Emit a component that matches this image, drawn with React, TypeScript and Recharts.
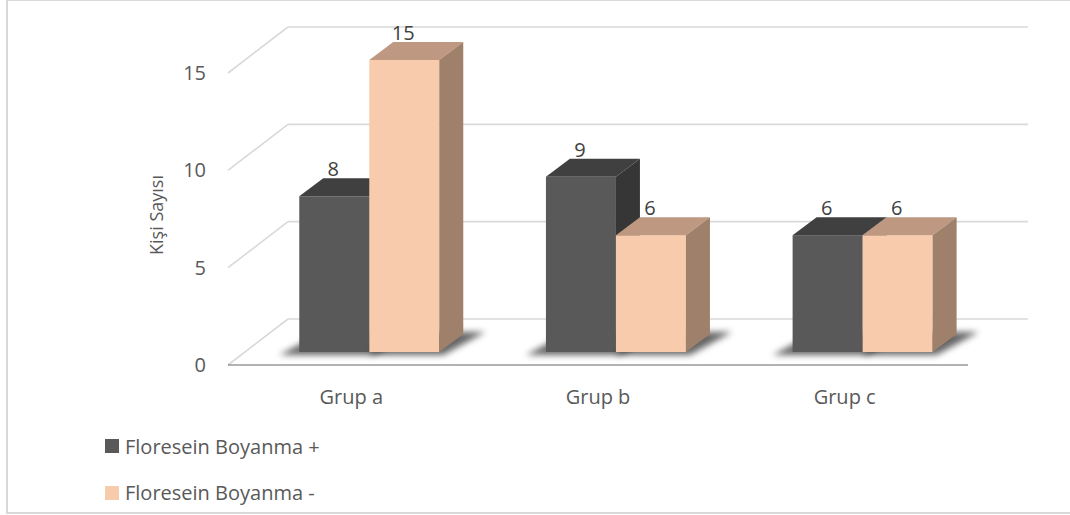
import React from 'react';
import {
  BarChart,
  Bar,
  XAxis,
  YAxis,
  CartesianGrid,
  LabelList,
} from 'recharts';

const CATEGORIES = ['Grup a', 'Grup b', 'Grup c'];
const SERIES_NAMES = ['Floresein Boyanma +', 'Floresein Boyanma -'];
const POSITIVE = [8, 9, 6];
const NEGATIVE = [15, 6, 6];
const Y_TICKS = [0, 5, 10, 15];

const data = CATEGORIES.map((name, i) => ({
  name,
  pos: POSITIVE[i],
  neg: NEGATIVE[i],
}));

const FONT = "'Open Sans', sans-serif";
const TEXT = '#595959';
const GRID = '#d9d9d9';

// perspective: back wall offset, bars sit partway into the floor
const WALL_DX = 60;
const WALL_DY = -46;
const SHIFT_X = 17.5;
const SHIFT_Y = -13;
const DEPTH_X = 24;
const DEPTH_Y = -18;

const COLORS = [
  { front: '#595959', top: '#404040', side: '#363636' },
  { front: '#F8CBAD', top: '#BE9880', side: '#9F806A' },
];

const gridLine = (p: any) => {
  const { x1, x2, y1, index } = p;
  const bx = x1 + WALL_DX;
  const by = y1 + WALL_DY;
  return (
    <g key={`grid-${index}-${y1}`}>
      <line x1={x1} y1={y1} x2={bx} y2={by} stroke={GRID} strokeWidth={1.6} />
      <line x1={bx} y1={by} x2={x2 + WALL_DX} y2={by} stroke={GRID} strokeWidth={1.6} />
    </g>
  );
};

const makeBox = (c: typeof COLORS[0], first: boolean) => (props: any) => {
  const { x, y, width, height } = props;
  if (x == null || !height) return null;
  const fx = x + SHIFT_X;
  const fy = y + SHIFT_Y;
  const w = width;
  const yb = fy + height;
  const ext = first ? 20 : 0;
  const shadow = [
    [fx - ext, yb + 3],
    [fx + w + 4, yb + 3],
    [fx + w + DEPTH_X + 22, yb + DEPTH_Y - 2],
    [fx + DEPTH_X, yb + DEPTH_Y - 2],
  ]
    .map((pt) => pt.join(','))
    .join(' ');
  const top = `${fx},${fy} ${fx + DEPTH_X},${fy + DEPTH_Y} ${fx + w + DEPTH_X},${fy + DEPTH_Y} ${fx + w},${fy}`;
  const side = `${fx + w},${fy} ${fx + w + DEPTH_X},${fy + DEPTH_Y} ${fx + w + DEPTH_X},${yb + DEPTH_Y} ${fx + w},${yb}`;
  return (
    <g>
      <polygon points={shadow} fill="#000" fillOpacity={0.6} filter="url(#barShadow)" />
      <rect x={fx} y={fy} width={w} height={height} fill={c.front} />
      <polygon points={top} fill={c.top} />
      <polygon points={side} fill={c.side} />
    </g>
  );
};

const valueLabel = (p: any) => {
  const { x, y, width, value } = p;
  return (
    <text
      x={x + width / 2 + SHIFT_X - 1}
      y={y + SHIFT_Y - 20}
      textAnchor="middle"
      fontFamily={FONT}
      fontSize={20}
      fill="#404040"
    >
      {value}
    </text>
  );
};

const FloorLine = (p: any) => {
  // front edge of the floor along the x axis
  const { x, y, width } = p;
  return <line x1={x} y1={y} x2={x + width} y2={y} stroke={GRID} strokeWidth={1.6} />;
};

export default function App() {
  return (
    <div
      style={{
        position: 'absolute',
        left: 0,
        top: 0,
        width: 1070,
        height: 515,
        overflow: 'hidden',
        background: '#fff',
        fontFamily: FONT,
      }}
    >
      <svg width={0} height={0} style={{ position: 'absolute' }}>
        <defs>
          <filter id="barShadow" x="-50%" y="-50%" width="200%" height="200%">
            <feGaussianBlur stdDeviation={3} />
          </filter>
        </defs>
      </svg>
      <div
        style={{
          position: 'absolute',
          left: 6,
          top: -1,
          width: 1100,
          height: 515,
          boxSizing: 'border-box',
          border: `2px solid ${GRID}`,
        }}
      />
      <div style={{ position: 'absolute', left: 0, top: 0 }}>
        <BarChart
          width={1070}
          height={515}
          data={data}
          margin={{ top: 73, right: 102, bottom: 120, left: 140 }}
          barCategoryGap="21.8%"
          barGap={0}
        >
          <CartesianGrid vertical={false} horizontal={gridLine} />
          <XAxis
            dataKey="name"
            height={30}
            tickLine={false}
            axisLine={<FloorLine />}
            tickSize={0}
            tickMargin={25}
            tick={{ fontSize: 20, fill: TEXT, fontFamily: FONT }}
          />
          <YAxis
            width={88}
            domain={[0, 15]}
            ticks={Y_TICKS}
            tickLine={false}
            axisLine={false}
            tickSize={0}
            tickMargin={22}
            tick={{ fontSize: 20, fill: TEXT, fontFamily: FONT }}
            label={{
              value: 'Kişi Sayısı',
              angle: -90,
              position: 'insideLeft',
              offset: 17,
              dy: -4,
              style: { textAnchor: 'middle', fontSize: 18, fill: TEXT, fontFamily: FONT },
            }}
          />
          <Bar dataKey="pos" name={SERIES_NAMES[0]} shape={makeBox(COLORS[0], true)} isAnimationActive={false}>
            <LabelList dataKey="pos" content={valueLabel} />
          </Bar>
          <Bar dataKey="neg" name={SERIES_NAMES[1]} shape={makeBox(COLORS[1], false)} isAnimationActive={false}>
            <LabelList dataKey="neg" content={valueLabel} />
          </Bar>
        </BarChart>
      </div>
      {SERIES_NAMES.map((name, i) => (
        <div
          key={name}
          style={{
            position: 'absolute',
            left: 105,
            top: 432 + i * 46.5,
            height: 28,
            display: 'flex',
            alignItems: 'center',
            fontSize: 20,
            color: TEXT,
            whiteSpace: 'nowrap',
          }}
        >
          <span
            style={{
              width: 14,
              height: 14,
              background: COLORS[i].front,
              marginRight: 6,
              display: 'inline-block',
            }}
          />
          {name}
        </div>
      ))}
    </div>
  );
}
